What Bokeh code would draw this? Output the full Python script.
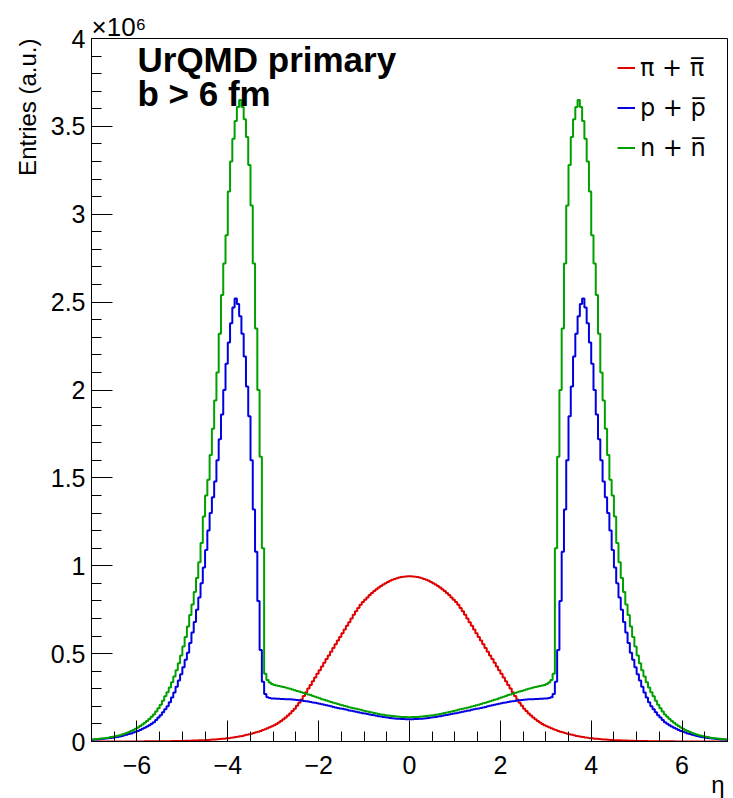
from bokeh.plotting import figure
from bokeh.models import (Range1d, SingleIntervalTicker, Label, Legend, LegendItem,
                          CustomJSTickFormatter, Title)
from bokeh.embed import file_html
from bokeh.resources import INLINE

# ---------------- data (units of 10^6 entries), bins of 0.05 in eta ----------------
ETA_MIN, ETA_MAX, N_BINS = -7.0, 7.0, 280
Y_MIN, Y_MAX = 0.0, 4.0

pion_neg = [
    0.0001, 0.0001, 0.0001, 0.0001, 0.0001, 0.0002, 0.0002, 0.0002, 0.0002, 0.0002,
    0.0003, 0.0003, 0.0003, 0.0003, 0.0004, 0.0004, 0.0004, 0.0005, 0.0005, 0.0006,
    0.0006, 0.0007, 0.0007, 0.0008, 0.0009, 0.0010, 0.0011, 0.0012, 0.0013, 0.0014,
    0.0015, 0.0016, 0.0017, 0.0019, 0.0021, 0.0023, 0.0025, 0.0027, 0.0029, 0.0032,
    0.0035, 0.0038, 0.0042, 0.0046, 0.0050, 0.0055, 0.0060, 0.0065, 0.0071, 0.0078,
    0.0085, 0.0092, 0.010, 0.011, 0.012, 0.013, 0.014, 0.015, 0.016, 0.018,
    0.019, 0.021, 0.023, 0.025, 0.027, 0.030, 0.032, 0.035, 0.038, 0.041,
    0.044, 0.048, 0.052, 0.056, 0.060, 0.065, 0.070, 0.075, 0.081, 0.087,
    0.093, 0.100, 0.108, 0.117, 0.127, 0.137, 0.148, 0.160, 0.173, 0.187,
    0.203, 0.220, 0.239, 0.259, 0.280, 0.301, 0.322, 0.343, 0.364, 0.385,
    0.406, 0.427, 0.448, 0.469, 0.490, 0.511, 0.532, 0.553, 0.574, 0.595,
    0.616, 0.637, 0.658, 0.679, 0.700, 0.721, 0.741, 0.760, 0.778, 0.794,
    0.807, 0.820, 0.833, 0.845, 0.856, 0.866, 0.876, 0.885, 0.894, 0.901,
    0.908, 0.915, 0.920, 0.925, 0.929, 0.933, 0.936, 0.938, 0.939, 0.940]
pion_pos = [
    0.940, 0.939, 0.938, 0.936, 0.933, 0.929, 0.925, 0.920, 0.915, 0.908,
    0.901, 0.894, 0.885, 0.876, 0.866, 0.856, 0.845, 0.833, 0.820, 0.807,
    0.794, 0.778, 0.760, 0.741, 0.721, 0.700, 0.679, 0.658, 0.637, 0.616,
    0.595, 0.574, 0.553, 0.532, 0.511, 0.490, 0.469, 0.448, 0.427, 0.406,
    0.385, 0.364, 0.343, 0.322, 0.301, 0.280, 0.259, 0.239, 0.220, 0.203,
    0.187, 0.173, 0.160, 0.148, 0.137, 0.127, 0.117, 0.108, 0.100, 0.093,
    0.087, 0.081, 0.075, 0.070, 0.065, 0.060, 0.056, 0.052, 0.048, 0.044,
    0.041, 0.038, 0.035, 0.032, 0.030, 0.027, 0.025, 0.023, 0.021, 0.019,
    0.018, 0.016, 0.015, 0.014, 0.013, 0.012, 0.011, 0.010, 0.0092, 0.0085,
    0.0078, 0.0071, 0.0065, 0.0060, 0.0055, 0.0050, 0.0046, 0.0042, 0.0038, 0.0035,
    0.0032, 0.0029, 0.0027, 0.0025, 0.0023, 0.0021, 0.0019, 0.0017, 0.0016, 0.0015,
    0.0014, 0.0013, 0.0012, 0.0011, 0.0010, 0.0009, 0.0008, 0.0007, 0.0007, 0.0006,
    0.0006, 0.0005, 0.0005, 0.0004, 0.0004, 0.0004, 0.0003, 0.0003, 0.0003, 0.0003,
    0.0002, 0.0002, 0.0002, 0.0002, 0.0002, 0.0001, 0.0001, 0.0001, 0.0001, 0.0001]

proton_neg = [
    0.010, 0.011, 0.012, 0.013, 0.014, 0.015, 0.017, 0.018, 0.020, 0.022,
    0.024, 0.026, 0.029, 0.032, 0.035, 0.038, 0.042, 0.046, 0.051, 0.055,
    0.060, 0.066, 0.072, 0.078, 0.085, 0.093, 0.101, 0.110, 0.123, 0.136,
    0.150, 0.166, 0.183, 0.200, 0.224, 0.250, 0.279, 0.311, 0.347, 0.383,
    0.422, 0.465, 0.505, 0.560, 0.620, 0.680, 0.750, 0.820, 0.900, 0.990,
    1.090, 1.200, 1.300, 1.390, 1.480, 1.600, 1.720, 1.860, 2.000, 2.150,
    2.270, 2.380, 2.470, 2.520, 2.490, 2.420, 2.320, 2.190, 2.020, 1.850,
    1.600, 1.320, 1.080, 0.800, 0.520, 0.340, 0.270, 0.252, 0.247, 0.245,
    0.244, 0.243, 0.243, 0.242, 0.242, 0.241, 0.241, 0.240, 0.239, 0.238,
    0.236, 0.235, 0.233, 0.231, 0.229, 0.227, 0.225, 0.222, 0.220, 0.217,
    0.215, 0.212, 0.209, 0.206, 0.203, 0.200, 0.197, 0.194, 0.191, 0.188,
    0.186, 0.183, 0.180, 0.177, 0.175, 0.172, 0.169, 0.166, 0.164, 0.161,
    0.159, 0.156, 0.154, 0.151, 0.149, 0.146, 0.144, 0.142, 0.140, 0.138,
    0.136, 0.134, 0.133, 0.131, 0.130, 0.129, 0.128, 0.128, 0.127, 0.127]
proton_pos = [
    0.127, 0.127, 0.128, 0.128, 0.129, 0.130, 0.131, 0.133, 0.134, 0.136,
    0.138, 0.140, 0.142, 0.144, 0.146, 0.149, 0.151, 0.154, 0.156, 0.159,
    0.161, 0.164, 0.166, 0.169, 0.172, 0.175, 0.177, 0.180, 0.183, 0.186,
    0.188, 0.191, 0.194, 0.197, 0.200, 0.203, 0.206, 0.209, 0.212, 0.215,
    0.217, 0.220, 0.222, 0.225, 0.227, 0.229, 0.231, 0.233, 0.235, 0.236,
    0.238, 0.239, 0.240, 0.241, 0.241, 0.242, 0.242, 0.243, 0.243, 0.244,
    0.245, 0.247, 0.252, 0.270, 0.340, 0.520, 0.800, 1.080, 1.320, 1.600,
    1.850, 2.020, 2.190, 2.320, 2.420, 2.490, 2.520, 2.470, 2.380, 2.270,
    2.150, 2.000, 1.860, 1.720, 1.600, 1.480, 1.390, 1.300, 1.200, 1.090,
    0.990, 0.900, 0.820, 0.750, 0.680, 0.620, 0.560, 0.505, 0.465, 0.422,
    0.383, 0.347, 0.311, 0.279, 0.250, 0.224, 0.200, 0.183, 0.166, 0.150,
    0.136, 0.123, 0.110, 0.101, 0.093, 0.085, 0.078, 0.072, 0.066, 0.060,
    0.055, 0.051, 0.046, 0.042, 0.038, 0.035, 0.032, 0.029, 0.026, 0.024,
    0.022, 0.020, 0.018, 0.017, 0.015, 0.014, 0.013, 0.012, 0.011, 0.010]

neutron_neg = [
    0.012, 0.013, 0.014, 0.015, 0.017, 0.018, 0.020, 0.022, 0.025, 0.027,
    0.030, 0.033, 0.036, 0.040, 0.044, 0.049, 0.054, 0.060, 0.066, 0.073,
    0.080, 0.088, 0.097, 0.106, 0.117, 0.128, 0.141, 0.154, 0.170, 0.189,
    0.209, 0.232, 0.257, 0.280, 0.307, 0.337, 0.370, 0.405, 0.445, 0.490,
    0.540, 0.595, 0.655, 0.720, 0.780, 0.850, 0.930, 1.020, 1.130, 1.280,
    1.400, 1.490, 1.630, 1.780, 1.940, 2.100, 2.320, 2.540, 2.720, 2.880,
    3.130, 3.300, 3.430, 3.530, 3.610, 3.650, 3.610, 3.540, 3.440, 3.280,
    3.050, 2.720, 2.350, 2.000, 1.620, 1.100, 0.385, 0.350, 0.335, 0.327,
    0.322, 0.319, 0.316, 0.313, 0.310, 0.307, 0.303, 0.300, 0.296, 0.292,
    0.288, 0.284, 0.280, 0.276, 0.272, 0.268, 0.264, 0.259, 0.255, 0.250,
    0.246, 0.241, 0.237, 0.233, 0.229, 0.225, 0.221, 0.217, 0.213, 0.209,
    0.206, 0.202, 0.199, 0.195, 0.192, 0.189, 0.186, 0.183, 0.180, 0.177,
    0.174, 0.171, 0.168, 0.165, 0.162, 0.159, 0.157, 0.154, 0.152, 0.150,
    0.148, 0.146, 0.145, 0.143, 0.142, 0.141, 0.140, 0.139, 0.139, 0.138]
neutron_pos = [
    0.138, 0.139, 0.139, 0.140, 0.141, 0.142, 0.143, 0.145, 0.146, 0.148,
    0.150, 0.152, 0.154, 0.157, 0.159, 0.162, 0.165, 0.168, 0.171, 0.174,
    0.177, 0.180, 0.183, 0.186, 0.189, 0.192, 0.195, 0.199, 0.202, 0.206,
    0.209, 0.213, 0.217, 0.221, 0.225, 0.229, 0.233, 0.237, 0.241, 0.246,
    0.250, 0.255, 0.259, 0.264, 0.268, 0.272, 0.276, 0.280, 0.284, 0.288,
    0.292, 0.296, 0.300, 0.303, 0.307, 0.310, 0.313, 0.316, 0.319, 0.322,
    0.327, 0.335, 0.350, 0.385, 1.100, 1.620, 2.000, 2.350, 2.720, 3.050,
    3.280, 3.440, 3.540, 3.610, 3.650, 3.610, 3.530, 3.430, 3.300, 3.130,
    2.880, 2.720, 2.540, 2.320, 2.100, 1.940, 1.780, 1.630, 1.490, 1.400,
    1.280, 1.130, 1.020, 0.930, 0.850, 0.780, 0.720, 0.655, 0.595, 0.540,
    0.490, 0.445, 0.405, 0.370, 0.337, 0.307, 0.280, 0.257, 0.232, 0.209,
    0.189, 0.170, 0.154, 0.141, 0.128, 0.117, 0.106, 0.097, 0.088, 0.080,
    0.073, 0.066, 0.060, 0.054, 0.049, 0.044, 0.040, 0.036, 0.033, 0.030,
    0.027, 0.025, 0.022, 0.020, 0.018, 0.017, 0.015, 0.014, 0.013, 0.012]

series_labels = ["\u03c0 + \u03c0\u0305", "p + p\u0305", "n + n\u0305"]
series_colors = ["#e00000", "#0000e0", "#00a000"]
x_tick_interval = 2
y_tick_interval = 0.5

pion = pion_neg + pion_pos
proton = proton_neg + proton_pos
neutron = neutron_neg + neutron_pos

bw = (ETA_MAX - ETA_MIN) / N_BINS
edges = [round(ETA_MIN + i * bw, 6) for i in range(N_BINS + 1)]

FONT = "Liberation Sans"

p = figure(width=733, height=798, output_backend="svg", toolbar_location=None,
           x_range=Range1d(ETA_MIN, ETA_MAX), y_range=Range1d(Y_MIN, Y_MAX),
           min_border_left=91, min_border_right=6, min_border_top=38, min_border_bottom=57)
p.background_fill_color = "white"
p.border_fill_color = "white"
p.outline_line_color = "black"
p.outline_line_width = 1
p.xgrid.visible = False
p.ygrid.visible = False

renderers = []
for vals, col in zip([pion, proton, neutron], series_colors):
    r = p.step(x=edges, y=vals + [vals[-1]], mode="after", line_color=col, line_width=2)
    renderers.append(r)

# axes (ROOT style: ticks inside the frame)
xa = p.xaxis[0]
xa.ticker = SingleIntervalTicker(interval=x_tick_interval, num_minor_ticks=4)
xa.formatter = CustomJSTickFormatter(
    code="return (tick < 0 ? '\u2212' : '') + Math.abs(Math.round(tick*10)/10).toString();")
ya = p.yaxis[0]
ya.ticker = SingleIntervalTicker(interval=y_tick_interval, num_minor_ticks=5)
ya.formatter = CustomJSTickFormatter(code="return (Math.round(tick*10)/10).toString();")
for ax in (xa, ya):
    ax.major_tick_in = 21
    ax.major_tick_out = 0
    ax.minor_tick_in = 10
    ax.minor_tick_out = 0
    ax.axis_line_color = "black"
    ax.major_tick_line_color = "black"
    ax.minor_tick_line_color = "black"
    ax.major_label_text_font = FONT
    ax.major_label_text_font_size = "25px"
    ax.major_label_text_color = "black"
xa.major_label_standoff = 14
ya.major_label_standoff = 6

# axis titles and multiplier
p.add_layout(Title(text="Entries (a.u.)", align="right", standoff=14,
                   text_font=FONT, text_font_size="24px", text_font_style="normal",
                   text_color="black"), "left")
p.add_layout(Title(text="\u00d710\u2076", align="left", standoff=-6,
                   text_font=FONT, text_font_size="26px", text_font_style="normal",
                   text_color="black"), "above")
p.add_layout(Title(text="\u03b7", align="right", offset=3, vertical_align="top", standoff=-12,
                   text_font=FONT, text_font_size="24px", text_font_style="normal",
                   text_color="black"), "below")

# in-frame texts
p.add_layout(Label(x=ETA_MIN, y=Y_MAX, x_offset=46, y_offset=-21, text="UrQMD primary",
                   text_align="left", text_baseline="alphabetic", text_font_style="bold",
                   text_font=FONT, text_font_size="35px", text_color="black"))
p.add_layout(Label(x=ETA_MIN, y=Y_MAX, x_offset=46, y_offset=-55, text="b > 6 fm",
                   text_align="left", text_baseline="alphabetic", text_font_style="bold",
                   text_font=FONT, text_font_size="35px", text_color="black"))

legend = Legend(items=[LegendItem(label=lab, renderers=[r]) for lab, r in zip(series_labels, renderers)],
                location=(526, 576), orientation="vertical",
                glyph_width=18, glyph_height=35, label_height=35, label_standoff=5,
                spacing=5, padding=0, margin=0,
                border_line_alpha=0, background_fill_alpha=0,
                label_text_font="DejaVu Sans", label_text_font_size="24px", label_text_color="black")
p.add_layout(legend)

open("out.html", "w").write(file_html(p, INLINE))
